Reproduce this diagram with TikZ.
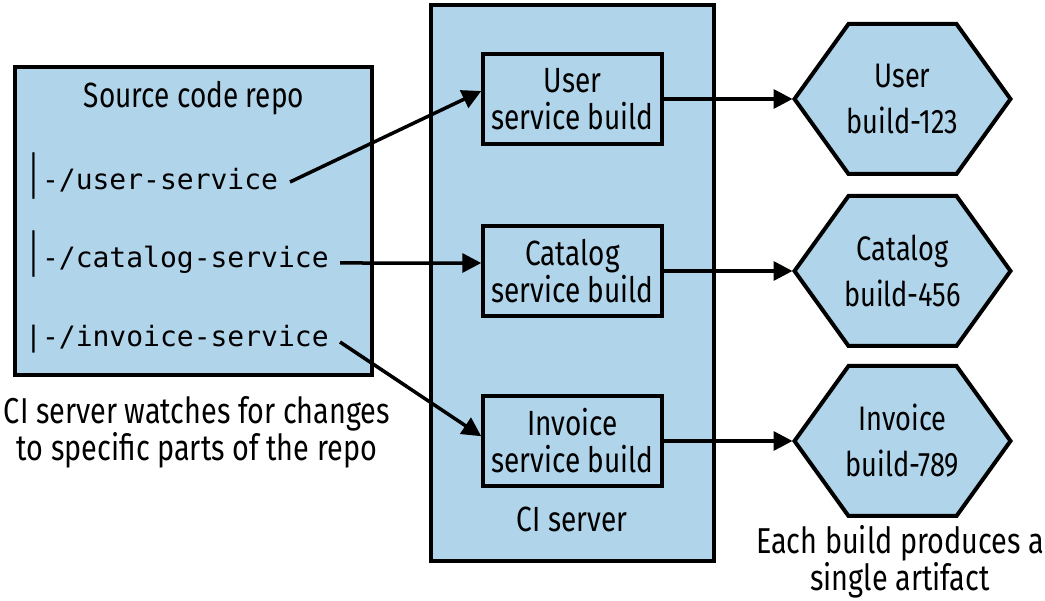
\documentclass[tikz,border=0pt]{standalone}
\usepackage{fontspec}
\setmainfont[FakeStretch=0.8]{Fira Sans}
\setmonofont{DejaVu Sans Mono}
\usetikzlibrary{arrows.meta}
\definecolor{boxblue}{RGB}{176,212,234}
\newcommand{\tallbar}{\scalebox{1}[1.4]{│}}
\tikzset{
  outerbox/.style={draw=black,fill=boxblue,line width=4pt,inner sep=0pt},
  buildbox/.style={draw=black,fill=boxblue,line width=3.5pt,minimum width=179pt,minimum height=90pt,inner sep=0pt,align=center,font=\fontsize{35}{37}\selectfont},
  hexs/.style={draw=black,fill=boxblue,line width=4pt,line join=miter},
  hexlbl/.style={align=center,inner sep=0pt,font=\fontsize{34}{46}\selectfont},
  lbl/.style={inner sep=0pt,font=\fontsize{35}{37}\selectfont},
  caption/.style={inner sep=0pt,align=center,font=\fontsize{36}{37}\selectfont},
  path/.style={inner sep=0pt,anchor=base west,font=\ttfamily\fontsize{28}{30}\selectfont},
  conn/.style={line width=3.5pt,-{Triangle[length=19pt,width=19pt]}},
  hexa/.pic={\draw[hexs] (-108,0) -- (-54,-75) -- (54,-75) -- (108,0) -- (54,75) -- (-54,75) -- cycle;}
}
\begin{document}
\begin{tikzpicture}[x=1pt,y=-1pt]
\useasboundingbox (0,0) rectangle (1045,601);
% outer boxes
\node[outerbox,minimum width=357pt,minimum height=308pt] (repo) at (193.5,221) {};
\node[outerbox,minimum width=283pt,minimum height=556pt] (ci) at (572.5,283) {};
% repo contents
\node[lbl,anchor=base] (repot) at (194,108) {Source code repo};
\node[path] (pu) at (25,190) {\tallbar-/user-service};
\node[path] (pc) at (25,268) {\tallbar-/catalog-service};
\node[path] (pi) at (25,347) {|-/invoice-service};
\coordinate (su) at (290,182);
\coordinate (sc) at (340,263);
\coordinate (si) at (340,342);
% builds
\node[buildbox] (ub) at (572.5,99) {User\\service build};
\node[buildbox] (cb) at (572.5,271) {Catalog\\service build};
\node[buildbox] (ib) at (572.5,441) {Invoice\\service build};
\node[lbl,anchor=base] (cit) at (572,532) {CI server};
% hexagons
\pic at (902.5,99) {hexa};
\node[hexlbl] (hu) at (902.5,99) {User\\build-123};
\coordinate (huL) at (792.5,99);
\pic at (902.5,271) {hexa};
\node[hexlbl] (hc) at (902.5,271) {Catalog\\build-456};
\coordinate (hcL) at (792.5,271);
\pic at (902.5,441) {hexa};
\node[hexlbl] (hi) at (902.5,441) {Invoice\\build-789};
\coordinate (hiL) at (792.5,441);
% captions
\node[caption] (capl) at (197,432) {CI server watches for changes\\to specific parts of the repo};
\node[caption] (capr) at (900,562) {Each build produces a\\single artifact};
% connectors
\draw[conn] (su) -- (ub.175);
\draw[conn] (sc) -- (cb.175);
\draw[conn] (si) -- (ib.177);
\draw[conn] (ub.east) -- (huL);
\draw[conn] (cb.east) -- (hcL);
\draw[conn] (ib.east) -- (hiL);
\end{tikzpicture}
\end{document}
